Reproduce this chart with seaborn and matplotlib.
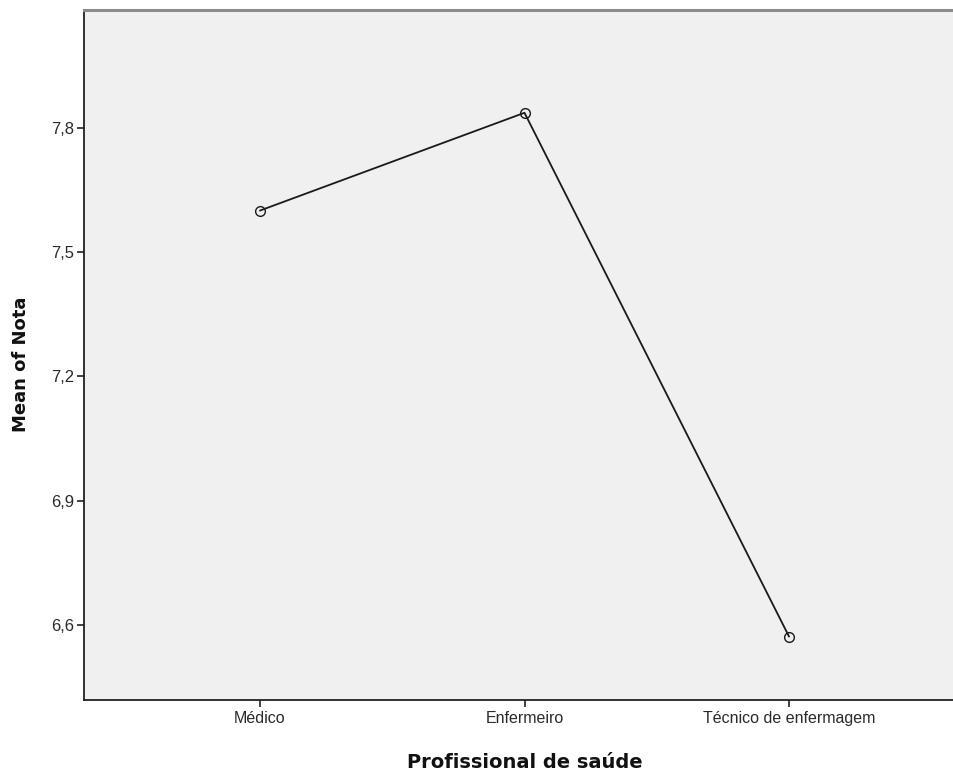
# Mean of Nota by Profissional de saúde - SPSS-style line chart

import matplotlib
matplotlib.use("Agg")
import matplotlib.pyplot as plt
import matplotlib.ticker as mticker
import seaborn as sns
import pandas as pd

# Data
categorias = ["Médico", "Enfermeiro", "Técnico de enfermagem"]
media_nota = [7.60, 7.836, 6.572]
y_ticks = [6.6, 6.9, 7.2, 7.5, 7.8]

df = pd.DataFrame({"profissional": categorias, "nota": media_nota})

sns.set_style("white")
plt.rcParams["font.family"] = ["Liberation Sans", "DejaVu Sans"]

fig = plt.figure(figsize=(9.54, 7.73), dpi=100)
ax = fig.add_axes([84 / 954, 73 / 773, 881 / 954, 690 / 773])
ax.set_facecolor("#f0f0f0")

sns.lineplot(data=df, x="profissional", y="nota", sort=False, color="#1a1a1a",
             linewidth=1.3, marker="o", markersize=7, markerfacecolor="none",
             markeredgecolor="#1a1a1a", markeredgewidth=1.0, ax=ax)

ax.set_xlim(-0.665, 2.665)
ax.set_ylim(6.419, 8.084)
ax.set_yticks(y_ticks)
ax.yaxis.set_major_formatter(mticker.FuncFormatter(lambda v, p: f"{v:.1f}".replace(".", ",")))

ax.tick_params(axis="both", direction="out", length=5, width=1.2, color="#222222",
               labelsize=11.5, labelcolor="#2a2a2a", left=True, bottom=True)
ax.tick_params(axis="y", labelsize=12, pad=2)
ax.tick_params(axis="x", pad=3)

for side in ["left", "bottom"]:
    ax.spines[side].set_color("#222222")
    ax.spines[side].set_linewidth(1.3)
ax.spines["top"].set_color("#8c8c8c")
ax.spines["top"].set_linewidth(2.2)
ax.spines["right"].set_visible(False)

ax.set_xlabel("Profissional de saúde", fontsize=14, fontweight="bold",
              family="DejaVu Sans", labelpad=19, color="#111111")
ax.set_ylabel("Mean of Nota", fontsize=13, fontweight="bold",
              family="DejaVu Sans", color="#111111")
ax.yaxis.set_label_coords(-0.061, 0.487)

plt.savefig("out.png", dpi=100)
plt.close()
